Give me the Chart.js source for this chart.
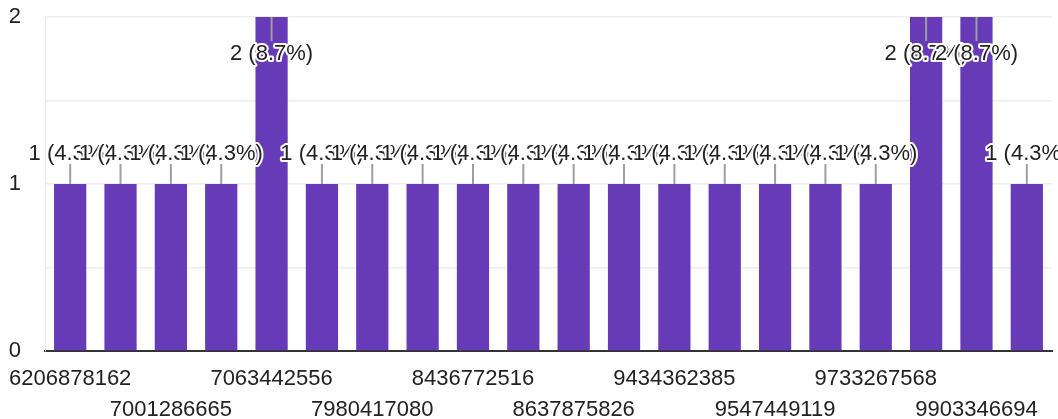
<!DOCTYPE html>
<html>
<head>
<meta charset="utf-8">
<script src="https://cdn.jsdelivr.net/npm/chart.js@4.4.1/dist/chart.umd.min.js"></script>
<style>
    html, body { margin: 0; padding: 0; background: #fff; }
    #wrap { width: 1058px; height: 419px; }
</style>
</head>
<body>
<div id="wrap"><canvas id="results-chart"></canvas></div>
<script>
const labels = [
    "6206878162", "6398721045", "7001286665", "7006318247", "7063442556",
    "7508136294", "7980417080", "8005216739", "8436772516", "8510947326",
    "8637875826", "9119053487", "9434362385", "9509311762", "9547449119",
    "9610224875", "9733267568", "9843015526", "9903346694", "9990827311"
];
const votes = [1, 1, 1, 1, 2, 1, 1, 1, 1, 1, 1, 1, 1, 1, 1, 1, 1, 2, 2, 1];
const yTicks = [0, 1, 2];

const total = votes.reduce((a, b) => a + b, 0);
const fontFamily = "'Liberation Sans', Arial, sans-serif";

// labels with white halo and a small grey leader line, like Google Forms
const barLabels = {
    id: "barLabels",
    afterDatasetsDraw(chart) {
        const ctx = chart.ctx;
        const area = chart.chartArea;
        const meta = chart.getDatasetMeta(0);
        ctx.save();
        ctx.font = "22px " + fontFamily;
        ctx.textAlign = "center";
        ctx.textBaseline = "middle";
        ctx.lineJoin = "round";
        meta.data.forEach((bar, i) => {
            const v = votes[i];
            const text = `${v} (${(v / total * 100).toFixed(1)}%)`;
            const atTop = bar.y <= area.top + 1;
            let y1, y2, ty;
            if (atTop) {
                y1 = bar.y; y2 = bar.y + 24; ty = bar.y + 37;
            } else {
                y1 = bar.y; y2 = bar.y - 20; ty = bar.y - 30;
            }
            ctx.strokeStyle = "#9e9e9e";
            ctx.lineWidth = 2;
            ctx.beginPath();
            ctx.moveTo(bar.x, y1);
            ctx.lineTo(bar.x, y2);
            ctx.stroke();
            ctx.strokeStyle = "#fff";
            ctx.lineWidth = 4;
            ctx.strokeText(text, bar.x, ty);
            ctx.fillStyle = "#222";
            ctx.fillText(text, bar.x, ty);
        });
        ctx.restore();
    }
};

const data = {
    labels,
    datasets: [{
        data: votes,
        backgroundColor: "#673ab7",
        barPercentage: 1,
        categoryPercentage: 0.64
    }]
};

const config = {
    type: "bar",
    data,
    options: {
        responsive: true,
        maintainAspectRatio: false,
        animation: false,
        layout: { padding: { left: 0, right: 6, top: 17, bottom: 0 } },
        plugins: {
            legend: { display: false },
            tooltip: { enabled: false }
        },
        scales: {
            x: {
                grid: {
                    drawTicks: false,
                    color: c => (c.index === 0 || c.index === labels.length) ? "#e8e8e8" : "transparent"
                },
                border: { color: "#333", width: 2 },
                ticks: {
                    autoSkip: false,
                    maxRotation: 0,
                    padding: 13,
                    color: "#222",
                    font: { family: fontFamily, size: 22, lineHeight: 1.38 },
                    callback: function (val, idx) {
                        if (idx % 4 === 0) return labels[idx];
                        if (idx % 4 === 2) return ["", labels[idx]];
                        return "";
                    }
                },
                afterFit: s => {
                    s.height = 68;
                    s.paddingLeft = 0;
                    s.paddingRight = 0;
                }
            },
            y: {
                min: 0,
                max: 2,
                grid: { drawTicks: false, color: "#eeeeee", lineWidth: 1.5 },
                border: { color: "#e8e8e8" },
                ticks: {
                    stepSize: 0.5,
                    padding: 24,
                    color: "#222",
                    font: { family: fontFamily, size: 22 },
                    callback: v => yTicks.includes(v) ? String(v) : ""
                },
                afterFit: s => {
                    s.width = 45;
                    s.paddingTop = 0;
                    s.paddingBottom = 0;
                }
            }
        }
    },
    plugins: [barLabels]
};

const ctx = document.getElementById("results-chart");

if (ctx) {
    new Chart(ctx, config);
}
</script>
</body>
</html>
